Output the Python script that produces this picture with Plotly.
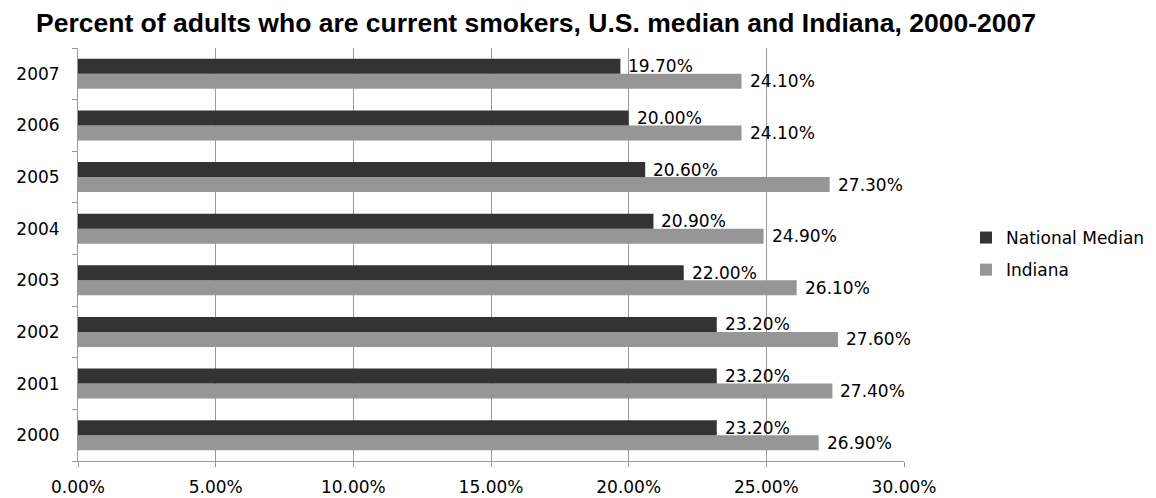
import plotly.graph_objects as go

# Adult smoking rates (percent), 2000-2007
years = ["2000", "2001", "2002", "2003", "2004", "2005", "2006", "2007"]
national_median = [23.2, 23.2, 23.2, 22.0, 20.9, 20.6, 20.0, 19.7]
indiana = [26.9, 27.4, 27.6, 26.1, 24.9, 27.3, 24.1, 24.1]
x_ticks = [0, 5, 10, 15, 20, 25, 30]

DARK = "#333333"
LIGHT = "#969696"
GRID = "#9a9a9a"

fig = go.Figure()

# Indiana first so it sits below the national bar in each group
fig.add_trace(go.Bar(
    y=years, x=indiana, orientation="h", name="Indiana",
    marker=dict(color=LIGHT, line=dict(width=0)),
    legendgroup="in", legendrank=2,
))
fig.add_trace(go.Bar(
    y=years, x=national_median, orientation="h", name="National Median",
    marker=dict(color=DARK, line=dict(width=0)),
    legendgroup="nm", legendrank=1,
))

# Value labels just past the end of each bar
bargap = 0.42
half = (1 - bargap) / 4
for i, (yr, nv, iv) in enumerate(zip(years, national_median, indiana)):
    for val, off in ((nv, half), (iv, -half)):
        fig.add_annotation(
            x=val, y=i + off, xref="x", yref="y",
            text=f"{val:.2f}%", showarrow=False,
            xanchor="left", yanchor="middle", xshift=6,
            font=dict(family="DejaVu Sans", size=17, color="#000000"),
        )

fig.update_layout(
    width=1156, height=498,
    margin=dict(l=78, r=252, t=48, b=37),
    paper_bgcolor="white", plot_bgcolor="white",
    barmode="group", bargap=bargap, bargroupgap=0,
    title=dict(
        text="<b>Percent of adults who are current smokers, U.S. median and Indiana, 2000-2007</b>",
        font=dict(family="Liberation Sans", size=26.5, color="#000000"),
        xref="container", x=536 / 1156, xanchor="center",
        yref="container", y=1 - 23 / 498, yanchor="middle",
    ),
    legend=dict(
        xref="container", x=966 / 1156, xanchor="left",
        yref="container", y=1 - 254 / 498, yanchor="middle",
        font=dict(family="DejaVu Sans", size=17, color="#000000"),
        traceorder="grouped", tracegroupgap=7,
        bgcolor="rgba(0,0,0,0)",
    ),
    showlegend=True,
)

fig.update_xaxes(
    range=[0, 30], tickvals=x_ticks,
    ticktext=[f"{t:.2f}%" for t in x_ticks],
    showgrid=True, gridcolor=GRID, gridwidth=1,
    zeroline=False, showline=True, linecolor=GRID, linewidth=1,
    ticks="outside", ticklen=5, tickcolor=GRID,
    tickfont=dict(family="DejaVu Sans", size=17, color="#000000"),
    ticklabelstandoff=6, automargin=False,
)
fig.update_yaxes(
    categoryorder="array", categoryarray=years,
    showgrid=False, zeroline=False,
    showline=True, linecolor=GRID, linewidth=1,
    ticks="outside", tickson="boundaries", ticklen=5, tickcolor=GRID,
    tickfont=dict(family="DejaVu Sans", size=17, color="#000000"),
    ticklabelstandoff=14, automargin=False,
)

fig.write_html("out.html")
